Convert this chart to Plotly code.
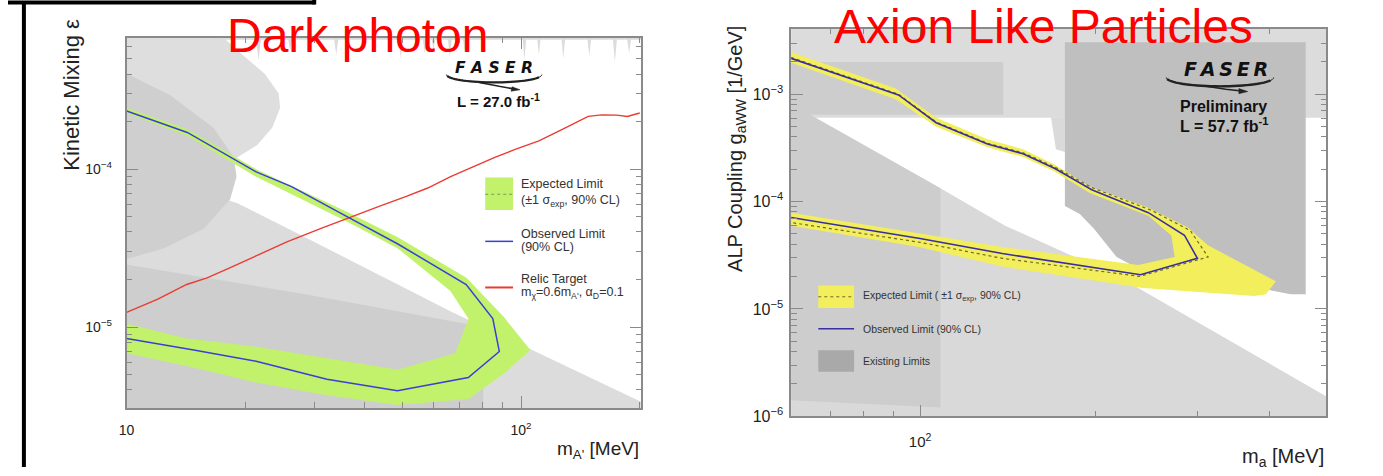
import math
import plotly.graph_objects as go

W, H = 1383, 476

# ---------------- Dark photon panel data ----------------
dp_obs_m = [10, 14.25, 21.3, 26.2, 36.6, 48.6, 72.6, 84.8, 88.1, 73.5, 48.6, 32.2, 21.3, 14.8, 10]
dp_obs_eps = [2.34e-4, 1.71e-4, 9.62e-5, 7.76e-5, 4.93e-5, 3.37e-5, 1.86e-5, 1.13e-5, 7.0e-6,
              4.78e-6, 3.94e-6, 4.66e-6, 6.07e-6, 7.16e-6, 8.45e-6]

dp_band_outer_m = [10, 14.25, 21.3, 36.6, 48.7, 72.7, 90.4, 105.6, 91.1, 73.6, 48.7, 32.2, 21.3, 14.2, 10]
dp_band_outer_eps = [2.44e-4, 1.79e-4, 1.0e-4, 5.30e-5, 3.71e-5, 2.05e-5, 1.16e-5, 7.16e-6, 5.13e-6,
                     3.5e-6, 3.2e-6, 3.69e-6, 4.45e-6, 5.66e-6, 6.82e-6]
dp_band_inner_m = [10, 14.25, 21.3, 36.6, 48.7, 66.2, 73.6, 68.1, 48.7, 21.3, 14.2, 10]
dp_band_inner_eps = [2.27e-4, 1.63e-4, 8.96e-5, 4.59e-5, 3.15e-5, 1.69e-5, 1.13e-5, 6.82e-6,
                     5.37e-6, 7.51e-6, 8.45e-6, 1.05e-5]

dp_relic_m = [10, 12, 14.2, 16, 18.2, 21.5, 25.4, 31, 37.6, 44, 51.2, 58, 66.3, 75, 85.8, 97, 111,
              128, 148, 160, 175, 186, 200]
dp_relic_eps = [1.24e-5, 1.50e-5, 1.86e-5, 2.05e-5, 2.36e-5, 2.85e-5, 3.45e-5, 4.20e-5, 5.06e-5,
                5.85e-5, 6.73e-5, 7.60e-5, 8.96e-5, 1.03e-4, 1.19e-4, 1.34e-4, 1.51e-4, 1.80e-4,
                2.16e-4, 2.21e-4, 2.20e-4, 2.16e-4, 2.27e-4]

# existing limits (grey regions)
dp_crescA_m = [9, 16.4, 19.6, 22.4, 24.3, 24.5, 23.4, 21.4, 18.8, 14.2, 9]
dp_crescA_eps = [8e-4, 8e-4, 5.35e-4, 4.02e-4, 3.02e-4, 2.44e-4, 1.83e-4, 1.42e-4, 1.16e-4, 1.06e-4, 1.0e-4]
dp_crescB_m = [9, 12.9, 16.6, 18.7, 19.0, 18.3, 15.7, 12.4, 9]
dp_crescB_eps = [4.6e-4, 2.94e-4, 1.83e-4, 1.19e-4, 8.96e-5, 6.45e-5, 4.2e-5, 3.15e-5, 2.5e-5]
dp_lower_m = [9, 19.1, 25.4, 66.2, 210, 210, 9]
dp_lower_eps = [1.13e-4, 6.09e-5, 4.26e-5, 1.26e-5, 3.2e-6, 2.5e-6, 2.5e-6]
dp_lowdark_m = [9, 28.6, 80.2, 80.2, 9]
dp_lowdark_eps = [2.6e-5, 1.61e-5, 1.0e-5, 2.5e-6, 2.5e-6]
dp_top_m = [16.4, 21.3, 21.6, 21.9, 25.7, 26, 26.3, 33.6, 34, 34.4, 39.5, 40, 40.5, 49, 49.6, 50.2,
            56.4, 57, 57.6, 59.4, 60, 60.6, 65.3, 66, 66.7, 71.3, 72, 72.7, 101, 102, 103, 110, 111,
            112, 126.7, 128, 129.3, 147.5, 149, 150.5, 171, 173, 175, 186, 188, 190, 210, 210, 16.4]
dp_top_eps = [6.6e-4, 6.6e-4, 4.9e-4, 6.6e-4, 6.6e-4, 5.6e-4, 6.6e-4, 6.6e-4, 5.3e-4, 6.6e-4,
              6.6e-4, 5.8e-4, 6.6e-4, 6.6e-4, 5.0e-4, 6.6e-4, 6.6e-4, 5.4e-4, 6.6e-4, 6.6e-4,
              5.7e-4, 6.6e-4, 6.6e-4, 5.1e-4, 6.6e-4, 6.6e-4, 5.5e-4, 6.6e-4, 6.6e-4, 4.9e-4,
              6.6e-4, 6.6e-4, 5.3e-4, 6.6e-4, 6.6e-4, 5.0e-4, 6.6e-4, 6.6e-4, 5.2e-4, 6.6e-4,
              6.6e-4, 4.8e-4, 6.6e-4, 6.6e-4, 5.4e-4, 6.6e-4, 6.6e-4, 8e-4, 8e-4]

dp_xticks = [10, 100]
dp_xticktext = ["10", "10<sup>2</sup>"]
dp_yticks = [1e-5, 1e-4]
dp_yticktext = ["10<sup>\u22125</sup>", "10<sup>\u22124</sup>"]

# ---------------- ALP panel data ----------------
alp_obs_m = [60, 91.8, 106.6, 130.6, 150.4, 170.6, 197.4, 247, 285, 300, 239.5, 138.5, 100, 60]
alp_obs_g = [2.16e-3, 9.85e-4, 5.43e-4, 3.44e-4, 2.79e-4, 2.03e-4, 1.29e-4, 7.88e-5, 4.86e-5,
             2.96e-5, 2.08e-5, 3.28e-5, 4.53e-5, 7.1e-5]
alp_exp_m = [60, 91.8, 106.6, 130.6, 150.4, 170.6, 197.4, 250, 291.7, 313, 238.6, 138.5, 100, 60]
alp_exp_g = [2.2e-3, 1.0e-3, 5.5e-4, 3.5e-4, 2.85e-4, 2.1e-4, 1.35e-4, 8.3e-5, 5.37e-5, 3.05e-5,
             2.01e-5, 2.96e-5, 4.17e-5, 6.38e-5]
alp_band_outer_m = [60, 90.8, 106.6, 130.6, 150.4, 170.6, 195.9, 247, 289, 312.8, 409.5, 393.6, 375.8,
                    242, 138.5, 100, 60]
alp_band_outer_g = [2.47e-3, 1.13e-3, 6.04e-4, 3.8e-4, 3.08e-4, 2.2e-4, 1.38e-4, 8.75e-5, 5.75e-5,
                    3.91e-5, 1.81e-5, 1.37e-5, 1.32e-5, 1.57e-5, 2.48e-5, 3.75e-5, 5.96e-5]
alp_band_inner_m = [60, 90.8, 106.6, 130.6, 150.4, 170.6, 195.9, 247, 270.6, 274.2, 237.3, 138.5, 100, 60]
alp_band_inner_g = [1.96e-3, 9.0e-4, 4.99e-4, 3.21e-4, 2.6e-4, 1.9e-4, 1.2e-4, 7.36e-5, 4.83e-5,
                    3.04e-5, 2.57e-5, 3.78e-5, 5.03e-5, 7.88e-5]

alp_top_m = [55, 520, 520, 55]
alp_top_g = [5e-3, 5e-3, 6.03e-4, 6.03e-4]
alp_lower_m = [55, 64.7, 108.4, 140.1, 219.6, 520, 520, 55]
alp_lower_g = [6.43e-4, 6.43e-4, 1.33e-4, 5.96e-5, 1.99e-5, 1.36e-6, 9e-7, 9e-7]
alp_left_m = [55, 139, 139, 64.7, 108.4, 108.4, 55]
alp_left_g = [2.0e-3, 2.0e-3, 6.43e-4, 6.43e-4, 1.33e-4, 1.21e-6, 1.44e-6]
alp_strip_m = [168, 177.5, 177.5, 171.3]
alp_strip_g = [6.1e-4, 6.1e-4, 2.89e-4, 3.08e-4]
alp_kaon_m = [177.5, 460.8, 460.8, 434.3, 250.1, 231.1, 217.9, 199, 188.3, 177.5]
alp_kaon_g = [3.05e-3, 3.05e-3, 1.37e-5, 1.37e-5, 2.46e-5, 2.57e-5, 3.04e-5, 5.6e-5, 7.67e-5, 9.08e-5]

alp_xticks = [100]
alp_xticktext = ["10<sup>2</sup>"]
alp_yticks = [1e-6, 1e-5, 1e-4, 1e-3]
alp_yticktext = ["10<sup>\u22126</sup>", "10<sup>\u22125</sup>", "10<sup>\u22124</sup>", "10<sup>\u22123</sup>"]


def px(x):
    return x / W


def py(y):
    return 1 - y / H


fig = go.Figure()


def poly(xs, ys, color, xa, ya):
    fig.add_trace(go.Scatter(x=xs, y=ys, mode="lines", fill="toself", fillcolor=color,
                             line=dict(width=0, color=color),
                             xaxis=xa, yaxis=ya, hoverinfo="skip", showlegend=False))


def curve(xs, ys, color, width, xa, ya, dash="solid"):
    fig.add_trace(go.Scatter(x=xs, y=ys, mode="lines", line=dict(color=color, width=width, dash=dash),
                             xaxis=xa, yaxis=ya, hoverinfo="skip", showlegend=False))


# ----- left panel -----
poly(dp_lower_m, dp_lower_eps, "#dcdcdc", "x", "y")
poly(dp_lowdark_m, dp_lowdark_eps, "#cecece", "x", "y")
poly(dp_crescA_m, dp_crescA_eps, "#dedede", "x", "y")
poly(dp_crescB_m, dp_crescB_eps, "#cfcfcf", "x", "y")
poly(dp_top_m, dp_top_eps, "#dcdcdc", "x", "y")
poly(dp_band_outer_m + dp_band_inner_m[::-1], dp_band_outer_eps + dp_band_inner_eps[::-1],
     "#c2f26c", "x", "y")
curve(dp_relic_m, dp_relic_eps, "#ea3c32", 1.4, "x", "y")
curve(dp_obs_m, dp_obs_eps, "#3b3fd8", 1.5, "x", "y")

# ----- right panel -----
poly(alp_top_m, alp_top_g, "#dcdcdc", "x2", "y2")
poly(alp_lower_m, alp_lower_g, "#d9d9d9", "x2", "y2")
poly(alp_left_m, alp_left_g, "#cdcdcd", "x2", "y2")
poly(alp_strip_m, alp_strip_g, "#dadada", "x2", "y2")
poly(alp_kaon_m, alp_kaon_g, "#bfbfbf", "x2", "y2")
poly(alp_band_outer_m + alp_band_inner_m[::-1], alp_band_outer_g + alp_band_inner_g[::-1],
     "#f3ee5c", "x2", "y2")
curve(alp_exp_m, alp_exp_g, "#6e6a2c", 1.2, "x2", "y2", dash="dot")
curve(alp_obs_m, alp_obs_g, "#3a2f9e", 1.6, "x2", "y2")

FONT = "Liberation Sans, Arial, sans-serif"
frame = dict(showline=True, linecolor="#8a8a8a", linewidth=1.5, mirror="allticks", ticks="inside",
             ticklen=12, tickcolor="#8a8a8a", tickwidth=1, showgrid=False, zeroline=False,
             type="log", tickmode="array")

dp_minor_x = [20, 30, 40, 50, 60, 70, 80, 90, 200]
dp_minor_y = [4e-6, 5e-6, 6e-6, 7e-6, 8e-6, 9e-6, 2e-5, 3e-5, 4e-5, 5e-5, 6e-5, 7e-5, 8e-5, 9e-5,
              2e-4, 3e-4, 4e-4, 5e-4, 6e-4]
alp_minor_x = [70, 80, 90, 200, 300, 400]
alp_minor_y = [2e-6, 3e-6, 4e-6, 5e-6, 6e-6, 7e-6, 8e-6, 9e-6, 2e-5, 3e-5, 4e-5, 5e-5, 6e-5, 7e-5,
               8e-5, 9e-5, 2e-4, 3e-4, 4e-4, 5e-4, 6e-4, 7e-4, 8e-4, 9e-4, 2e-3, 3e-3]

fig.update_layout(
    width=W, height=H, margin=dict(l=0, r=0, t=0, b=0),
    paper_bgcolor="white", plot_bgcolor="white", showlegend=False,
    xaxis=dict(frame, domain=[px(119.3), px(637)], range=[1, 2.305], tickvals=dp_xticks,
               ticktext=dp_xticktext, tickfont=dict(family=FONT, size=14, color="#222"),
               minor=dict(ticks="inside", ticklen=6, tickcolor="#8a8a8a", tickvals=dp_minor_x),
               ticklabelstandoff=8, anchor="y"),
    yaxis=dict(frame, domain=[py(416), py(38.3)], range=[-5.514, -3.166], tickvals=dp_yticks,
               ticktext=dp_yticktext, tickfont=dict(family=FONT, size=14, color="#222"),
               minor=dict(ticks="inside", ticklen=6, tickcolor="#8a8a8a", tickvals=dp_minor_y),
               ticklabelstandoff=10, anchor="x"),
    xaxis2=dict(frame, domain=[px(787.7), px(1326)], range=[1.7782, 2.699], tickvals=alp_xticks,
                ticktext=alp_xticktext, tickfont=dict(family=FONT, size=15, color="#222"),
                minor=dict(ticks="inside", ticklen=6, tickcolor="#8a8a8a", tickvals=alp_minor_x),
                ticklabelstandoff=11, anchor="y2"),
    yaxis2=dict(frame, domain=[py(424.3), py(29.3)], range=[-6, -2.39], tickvals=alp_yticks,
                ticktext=alp_yticktext, tickfont=dict(family=FONT, size=16, color="#222"),
                minor=dict(ticks="inside", ticklen=6, tickcolor="#8a8a8a", tickvals=alp_minor_y),
                ticklabelstandoff=3, anchor="x2"),
)

ann = []


def text(x, y, s, size, color="#222", xanchor="left", yanchor="middle", angle=0, family=FONT):
    ann.append(dict(x=px(x), y=py(y), xref="paper", yref="paper", text=s, showarrow=False,
                    xanchor=xanchor, yanchor=yanchor, textangle=angle,
                    font=dict(family=family, size=size, color=color)))


# titles
text(352, 36.5, "Dark photon", 48, color="#ff0000", xanchor="center")
text(1042, 27, "Axion Like Particles", 48, color="#ff0000", xanchor="center")

# axis titles
text(64, 97, "Kinetic Mixing \u03b5", 22, xanchor="center", angle=-90)
text(637, 459, "m<sub>A'</sub> [MeV]", 19, xanchor="right")
text(732, 152, "ALP Coupling g<sub>aWW</sub> [1/GeV]", 20, xanchor="center", angle=-90)
text(1326, 466, "m<sub>a</sub> [MeV]", 20, xanchor="right")

# FASER labels
LOGO = "DejaVu Sans, sans-serif"
text(489, 69, "<b><i>F A S E R</i></b>", 15.5, color="#111", xanchor="center", family=LOGO)
text(493.5, 102, "<b>L = 27.0 fb<sup>-1</sup></b>", 15, color="#111", xanchor="center")
text(1225, 70, "<b><i>F\u2009A\u2009S\u2009E\u2009R</i></b>", 19, color="#111", xanchor="center", family=LOGO)
text(1223, 108.5, "<b>Preliminary</b>", 16, color="#111", xanchor="center")
text(1223, 127.5, "<b>L = 57.7 fb<sup>-1</sup></b>", 16, color="#111", xanchor="center")

# legend texts (left)
LG = "#333"
text(514, 188, "Expected Limit", 12.5, color=LG)
text(514, 205, "(\u00b11 \u03c3<sub>exp</sub>, 90% CL)", 12.5, color=LG)
text(514, 238, "Observed Limit", 12.5, color=LG)
text(514, 252, "(90% CL)", 12.5, color=LG)
text(514, 284, "Relic Target", 12.5, color=LG)
text(514, 299, "m<sub>\u03c7</sub>=0.6m<sub>A'</sub>, \u03b1<sub>D</sub>=0.1", 12.5, color=LG)
# legend texts (right)
text(858, 302, "Expected Limit ( \u00b11 \u03c3<sub>exp</sub>, 90% CL)", 10.5, color=LG)
text(858, 335, "Observed Limit (90% CL)", 10.5, color=LG)
text(858, 368, "Existing Limits", 10.5, color=LG)

fig.update_layout(annotations=ann)

shapes = []


def rect(x0, y0, x1, y1, color):
    shapes.append(dict(type="rect", xref="paper", yref="paper", x0=px(x0), x1=px(x1), y0=py(y1), y1=py(y0),
                       fillcolor=color, line=dict(width=0)))


def seg(x0, y0, x1, y1, color, width, dash="solid"):
    shapes.append(dict(type="line", xref="paper", yref="paper", x0=px(x0), x1=px(x1), y0=py(y0), y1=py(y1),
                       line=dict(color=color, width=width, dash=dash)))


def path(pts, color, width, fill=None):
    d = "M " + " L ".join(f"{px(a):.5f},{py(b):.5f}" for a, b in pts)
    if fill:
        d += " Z"
    shapes.append(dict(type="path", xref="paper", yref="paper", path=d,
                       line=dict(color=color, width=width), fillcolor=fill if fill else "rgba(0,0,0,0)"))


# legend symbols (left)
rect(480, 181, 508, 214, "#c2f26c")
seg(480, 198, 508, 198, "#7a9a50", 1, "dot")
seg(480, 246, 508, 246, "#3b3fd8", 1.5)
seg(480, 293, 508, 293, "#ea3c32", 2)
# legend symbols (right)
rect(815, 291, 851, 314, "#f3ee5c")
seg(815, 302.5, 851, 302.5, "#6e6a2c", 1, "dot")
seg(815, 335, 851, 335, "#3a2f9e", 1.5)
rect(815, 357, 851, 379, "#a9a9a9")


def ellipse_arc(cx, cy, rx, ry, a0, a1, n=30):
    return [(cx + rx * math.cos(math.radians(a0 + (a1 - a0) * i / n)),
             cy + ry * math.sin(math.radians(a0 + (a1 - a0) * i / n))) for i in range(n + 1)]


# FASER swooshes
path(ellipse_arc(489, 76, 48, 8, 180, 0), "#222", 1)
path(ellipse_arc(489, 76, 48, 8, 170, 20), "#222", 2.2)
path([(474, 84), (494, 88), (511, 91)], "#222", 1.5)
path([(507, 88.5), (515, 91.5), (506, 93)], "#222", 0.5, fill="#222")

path(ellipse_arc(1219, 79, 54, 9, 180, 0), "#222", 1)
path(ellipse_arc(1219, 79, 54, 9, 170, 20), "#222", 2.4)
path([(1205, 88), (1225, 91), (1243, 93)], "#222", 1.5)
path([(1238, 90.3), (1247, 93.3), (1238, 95.5)], "#222", 0.5, fill="#222")

# slide frame lines
seg(0, 2.5, 309, 2.5, "#000", 4)
seg(308, 0, 308, 4.5, "#000", 4)
seg(16, 2.5, 16, 476, "#000", 4)

fig.update_layout(shapes=shapes)
fig.write_html("out.html")
